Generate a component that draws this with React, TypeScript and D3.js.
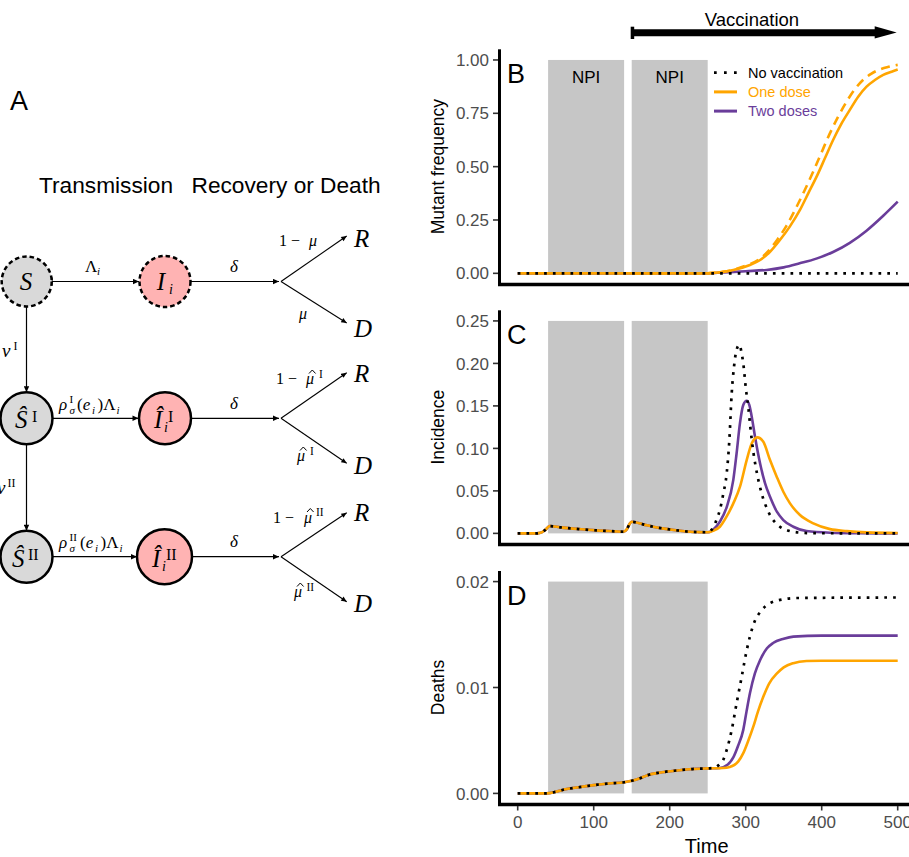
import React from 'react';
import * as d3 from 'd3';

// ---- values ----
const timeTicks = [0, 100, 200, 300, 400, 500];
const freqTicks = [0, 0.25, 0.5, 0.75, 1];
const incTicks = [0, 0.05, 0.1, 0.15, 0.2, 0.25];
const deathTicks = [0, 0.01, 0.02];
const npiWindows: [number, number][] = [[40, 140], [150, 250]];
const vaccination: [number, number] = [150, 500];

type Pt = [number, number];

// B: mutant frequency
const freqNoVax: Pt[] = [[0, 0], [500, 0]];
const freqOneDose: Pt[] = [[0, 0], [250, 0], [260, 0.003], [270, 0.007], [283.7, 0.0155], [305.6, 0.039], [319, 0.0624], [332, 0.101], [345, 0.156], [358, 0.219], [371.4, 0.297], [382.3, 0.375], [393.3, 0.453], [404.2, 0.539], [415, 0.625], [426.2, 0.703], [437, 0.766], [448, 0.828], [459, 0.875], [470, 0.906], [481, 0.93], [492, 0.945], [500, 0.955]];
const freqOneDoseAlt: Pt[] = [[150, 0], [250, 0], [260, 0.003], [270, 0.007], [283, 0.016], [300, 0.036], [318, 0.066], [330, 0.105], [342, 0.16], [354, 0.225], [366, 0.305], [377, 0.385], [388, 0.47], [399, 0.56], [410, 0.65], [421, 0.73], [432, 0.8], [443, 0.86], [454, 0.905], [465, 0.935], [476, 0.955], [488, 0.968], [500, 0.977]];
const freqTwoDoses: Pt[] = [[0, 0], [250, 0], [270, 0.004], [300, 0.01], [327.6, 0.016], [350, 0.028], [371, 0.047], [393, 0.069], [415, 0.1], [437, 0.143], [459, 0.2], [481, 0.27], [500, 0.336]];

// C: incidence (identical for all scenarios up to t = 250)
const incShared: Pt[] = [[0, 0], [25, 0], [30, 0.0006], [36, 0.0039], [42, 0.0086], [56, 0.0071], [80, 0.0051], [104, 0.0035], [128, 0.0024], [139, 0.0019], [143.5, 0.0047], [147.5, 0.0115], [150, 0.0136], [165, 0.0106], [178, 0.0078], [190, 0.0059], [203, 0.0043], [214, 0.0031], [227, 0.0019], [238, 0.0015], [250, 0.0013]];
const incNoVaxLate: Pt[] = [[255, 0.004], [258, 0.008], [262, 0.017], [266, 0.0275], [270.6, 0.047], [275, 0.0707], [278.5, 0.11], [281.6, 0.165], [284.6, 0.196], [288, 0.216], [291.6, 0.222], [294.7, 0.212], [296.8, 0.2], [300.4, 0.169], [303.5, 0.148], [306, 0.126], [310, 0.096], [313.6, 0.0765], [321, 0.047], [329.8, 0.0255], [345, 0.0078], [354, 0.0039], [370, 0.001], [390, 0.0002], [500, 0]];
const incOneDoseLate: Pt[] = [[257, 0.003], [266, 0.0078], [275, 0.02], [283.7, 0.0353], [292.5, 0.0549], [301.3, 0.0863], [308, 0.106], [315.3, 0.113], [323, 0.108], [332, 0.0863], [340.8, 0.0667], [349.5, 0.049], [358.3, 0.0353], [371.4, 0.0216], [389, 0.0118], [411, 0.005], [433, 0.0027], [459, 0.0012], [500, 0.0005]];
const incTwoDosesLate: Pt[] = [[257.4, 0.0047], [266, 0.0137], [275, 0.031], [283.7, 0.063], [288, 0.094], [292.5, 0.13], [296.8, 0.151], [301.3, 0.156], [304.8, 0.151], [308, 0.137], [312.2, 0.114], [319, 0.082], [325.4, 0.059], [332, 0.043], [341, 0.0255], [349.5, 0.0157], [362.6, 0.0078], [380, 0.0027], [411, 0.0008], [450, 0.0002], [500, 0]];

// D: cumulative deaths
const deathShared: Pt[] = [[0, 0], [38, 0], [50, 0.00015], [60, 0.00034], [80, 0.00058], [100, 0.00078], [120, 0.00094], [140, 0.00105], [150, 0.00119], [160, 0.0014], [170, 0.0017], [190, 0.002], [210, 0.00217], [230, 0.0023], [250, 0.00236]];
const deathNoVaxLate: Pt[] = [[258, 0.0024], [265, 0.0027], [270, 0.0031], [275, 0.0041], [281.6, 0.006], [288, 0.0085], [294.7, 0.011], [301, 0.0134], [310, 0.0159], [321, 0.0173], [341, 0.0182], [367, 0.01845], [500, 0.0185]];
const deathOneDoseLate: Pt[] = [[270, 0.0024], [279, 0.0025], [290, 0.003], [296.8, 0.0038], [303, 0.0049], [310, 0.0063], [316, 0.0077], [323, 0.0091], [331, 0.0104], [340.8, 0.0113], [350, 0.0119], [362.6, 0.0123], [380, 0.0125], [400, 0.01253], [500, 0.01253]];
const deathTwoDosesLate: Pt[] = [[266, 0.0024], [276, 0.0027], [283.7, 0.0034], [290, 0.0045], [296.8, 0.006], [301, 0.0077], [305.7, 0.0095], [312, 0.0113], [319, 0.0126], [328, 0.0137], [336, 0.0142], [350, 0.0146], [362.6, 0.0148], [400, 0.0149], [500, 0.0149]];

const legendItems = [
  { label: 'No vaccination', color: '#000000', dotted: true },
  { label: 'One dose', color: '#FFA500', dotted: false },
  { label: 'Two doses', color: '#6A3D9A', dotted: false },
];

const SANS = "'Liberation Sans', Arial, Helvetica, sans-serif";
const SERIF = "'Liberation Serif', 'Times New Roman', serif";
const ORANGE = '#FFA500';
const PURPLE = '#6A3D9A';
const NPI_FILL = '#C6C6C6';
const DOT = '2.7 6.1';

const x = d3.scaleLinear().domain([-25, 525]).range([498.7, 916.7]);

const panels = [
  {
    letter: 'B', title: 'Mutant frequency', ticks: freqTicks, ymax: 1,
    y: d3.scaleLinear().domain([-0.05, 1.05]).range([284, 49.3]),
    purple: freqTwoDoses, orange: freqOneDose, dashed: freqOneDoseAlt, black: freqNoVax,
  },
  {
    letter: 'C', title: 'Incidence', ticks: incTicks, ymax: 0.25,
    y: d3.scaleLinear().domain([-0.0125, 0.2625]).range([544, 310.3]),
    purple: [...incShared, ...incTwoDosesLate], orange: [...incShared, ...incOneDoseLate],
    dashed: null, black: [...incShared, ...incNoVaxLate],
  },
  {
    letter: 'D', title: 'Deaths', ticks: deathTicks, ymax: 0.02,
    y: d3.scaleLinear().domain([-0.001, 0.021]).range([804, 571]),
    purple: [...deathShared, ...deathTwoDosesLate], orange: [...deathShared, ...deathOneDoseLate],
    dashed: null, black: [...deathShared, ...deathNoVaxLate],
  },
];

const fmt = d3.format('.2f');

function Panel({ p, last }: { p: any; last: boolean }) {
  const y = p.y;
  const [yb, yt] = y.range();
  const line = d3.line<Pt>().x(d => x(d[0])).y(d => y(d[1])).curve(d3.curveMonotoneX);
  return (
    <g>
      {npiWindows.map(([a, b], i) => (
        <rect key={i} x={x(a)} y={y(p.ymax)} width={x(b) - x(a)} height={y(0) - y(p.ymax)} fill={NPI_FILL} />
      ))}
      <path d={line(p.purple) || ''} fill="none" stroke={PURPLE} strokeWidth={2.6} />
      <path d={line(p.orange) || ''} fill="none" stroke={ORANGE} strokeWidth={2.6} />
      {p.dashed && (
        <path d={line(p.dashed) || ''} fill="none" stroke={ORANGE} strokeWidth={2.6} strokeDasharray="9 6" />
      )}
      <path d={line(p.black) || ''} fill="none" stroke="#000" strokeWidth={2.7} strokeDasharray={DOT} />

      {/* axes */}
      <line x1={499.5} x2={499.5} y1={yt} y2={yb + 1.5} stroke="#000" strokeWidth={3} />
      <line x1={498} x2={909} y1={yb + 0.5} y2={yb + 0.5} stroke="#000" strokeWidth={3.5} />
      {p.ticks.map((t: number) => (
        <g key={t}>
          <line x1={493} x2={498} y1={y(t)} y2={y(t)} stroke="#333" strokeWidth={1.6} />
          <text x={489} y={y(t)} dy="0.36em" textAnchor="end" fill="#4D4D4D" fontSize={17} fontFamily={SANS}>{fmt(t)}</text>
        </g>
      ))}
      {last && timeTicks.map(t => (
        <g key={t}>
          <line x1={x(t)} x2={x(t)} y1={yb + 2} y2={yb + 6.5} stroke="#333" strokeWidth={1.6} />
          <text x={x(t)} y={828} textAnchor="middle" fill="#4D4D4D" fontSize={17} fontFamily={SANS}>{t}</text>
        </g>
      ))}
      <text transform={`translate(444,${(yt + yb) / 2}) rotate(-90)`} textAnchor="middle" fontSize={17.5} fontFamily={SANS} fill="#000">{p.title}</text>
      <text x={507} y={yt + 34} fontSize={27} fontFamily={SANS} fill="#000">{p.letter}</text>
    </g>
  );
}

// small circumflex drawn over an italic glyph starting at x, baseline b
const Hat = ({ x0, b }: { x0: number; b: number }) => (
  <path d={`M${x0 + 3},${b - 10.5} L${x0 + 6.3},${b - 14} L${x0 + 9.6},${b - 10.5}`} fill="none" stroke="#000" strokeWidth={1} />
);

function Diagram() {
  const m = { fontFamily: SERIF, fill: '#000' };
  const arrow = (x1: number, y1: number, x2: number, y2: number) => (
    <line x1={x1} y1={y1} x2={x2} y2={y2} stroke="#000" strokeWidth={1.2} markerEnd="url(#ah)" />
  );
  const branches = (cy: number, up: number, down: number, start: number) => (
    <g>
      {arrow(start, cy, 279, cy)}
      <line x1={281} y1={cy} x2={346.7} y2={up} stroke="#000" strokeWidth={1.1} markerEnd="url(#ah)" />
      <line x1={281} y1={cy} x2={346.7} y2={down} stroke="#000" strokeWidth={1.1} markerEnd="url(#ah)" />
    </g>
  );
  const rows = [281.5, 418.3, 556.7];
  return (
    <g>
      <defs>
        <marker id="ah" viewBox="0 0 10 10" refX="10" refY="5" markerWidth="6" markerHeight="5" orient="auto">
          <path d="M0,0.5 L10,5 L0,9.5 z" fill="#000" />
        </marker>
      </defs>
      <text x={10} y={110} fontSize={27} fontFamily={SANS}>A</text>
      <text x={39} y={193.3} fontSize={22.7} fontFamily={SANS}>Transmission</text>
      <text x={191.5} y={193.3} fontSize={22.7} fontFamily={SANS}>Recovery or Death</text>

      {/* vertical vaccination flows */}
      {arrow(26.5, 306.5, 26.5, 392.3)}
      {arrow(26.5, 444.3, 26.5, 530.7)}
      <text x={2} y={356.5} fontSize={19} fontStyle="italic" {...m}>ν</text>
      <text x={13.5} y={350} fontSize={12} {...m}>I</text>
      <text x={-3} y={493.5} fontSize={19} fontStyle="italic" {...m}>ν</text>
      <text x={7.5} y={487} fontSize={12} {...m}>II</text>

      {/* horizontal transmission arrows */}
      <line x1={52} y1={rows[0] - 4} x2={52} y2={rows[0] + 4} stroke="#000" strokeWidth={1.2} />
      {arrow(52, rows[0], 139, rows[0])}
      {arrow(52.5, rows[1], 138.5, rows[1])}
      {arrow(52.5, rows[2], 137, rows[2])}
      {branches(rows[0], 236, 323, 190.5)}
      {branches(rows[1], 372.7, 463.3, 191)}
      {branches(rows[2], 512.7, 601.7, 192)}

      {/* nodes */}
      <circle cx={26.7} cy={rows[0]} r={25} fill="#D9D9D9" stroke="#000" strokeWidth={2.5} strokeDasharray="4.5 3" />
      <circle cx={165} cy={rows[0]} r={25.5} fill="#FFB3B3" stroke="#000" strokeWidth={2.5} strokeDasharray="4.5 3" />
      <circle cx={26.5} cy={rows[1]} r={26} fill="#D9D9D9" stroke="#000" strokeWidth={2.5} />
      <circle cx={165} cy={rows[1]} r={26} fill="#FFB3B3" stroke="#000" strokeWidth={2.5} />
      <circle cx={26.5} cy={rows[2]} r={26} fill="#D9D9D9" stroke="#000" strokeWidth={2.5} />
      <circle cx={164.5} cy={rows[2]} r={27.5} fill="#FFB3B3" stroke="#000" strokeWidth={2.5} />

      <text x={26} y={rows[0] + 8.5} fontSize={25} fontStyle="italic" textAnchor="middle" {...m}>S</text>
      <text x={161} y={rows[0] + 8.5} fontSize={25} fontStyle="italic" textAnchor="middle" {...m}>I</text>
      <text x={169} y={rows[0] + 12} fontSize={14} fontStyle="italic" {...m}>i</text>

      <text x={15} y={rows[1] + 10} fontSize={25} fontStyle="italic" {...m}>Ŝ</text>
      <text x={32} y={rows[1] + 3.4} fontSize={16} {...m}>I</text>
      <text x={154} y={rows[1] + 10} fontSize={25} fontStyle="italic" {...m}>Î</text>
      <text x={164} y={rows[1] + 14} fontSize={14} fontStyle="italic" {...m}>i</text>
      <text x={168} y={rows[1] + 3.4} fontSize={16} {...m}>I</text>

      <text x={12} y={rows[2] + 10} fontSize={25} fontStyle="italic" {...m}>Ŝ</text>
      <text x={28} y={rows[2] + 3.4} fontSize={16} {...m}>II</text>
      <text x={152} y={rows[2] + 10} fontSize={25} fontStyle="italic" {...m}>Î</text>
      <text x={162} y={rows[2] + 14} fontSize={14} fontStyle="italic" {...m}>i</text>
      <text x={166} y={rows[2] + 3.4} fontSize={16} {...m}>II</text>

      {/* transmission labels */}
      <text x={85} y={271.7} fontSize={17} {...m}>Λ</text>
      <text x={97} y={274.5} fontSize={11} fontStyle="italic" {...m}>i</text>

      {[{ cy: rows[1], sup: 'I', dx: 0 }, { cy: rows[2], sup: 'II', dx: 3 }].map(({ cy, sup, dx }) => {
        const b = cy - 8.3;
        return (
          <g key={sup}>
            <text x={59} y={b} fontSize={17} fontStyle="italic" {...m}>ρ</text>
            <text x={69.5} y={b - 7} fontSize={11} {...m}>{sup}</text>
            <text x={69.5} y={b + 3.5} fontSize={11} fontStyle="italic" {...m}>σ</text>
            <text x={77 + dx} y={b} fontSize={17} {...m}>(<tspan fontStyle="italic">e</tspan></text>
            <text x={92 + dx} y={b + 3.5} fontSize={11} fontStyle="italic" {...m}>i</text>
            <text x={97.5 + dx} y={b} fontSize={17} {...m}>)Λ</text>
            <text x={116.5 + dx} y={b + 3.5} fontSize={11} fontStyle="italic" {...m}>i</text>
          </g>
        );
      })}

      {/* delta labels */}
      {rows.map(cy => (
        <text key={cy} x={230} y={cy - 9.5} fontSize={17} fontStyle="italic" {...m}>δ</text>
      ))}

      {/* branch labels */}
      <text x={279} y={246} fontSize={16} {...m}>1 −</text>
      <text x={309} y={246} fontSize={16} fontStyle="italic" {...m}>μ</text>
      <text x={299} y={318.5} fontSize={16} fontStyle="italic" {...m}>μ</text>

      <text x={276} y={384} fontSize={16} {...m}>1 −</text>
      <text x={306} y={384} fontSize={16} fontStyle="italic" {...m}>μ</text>
      <Hat x0={306} b={384} />
      <text x={319} y={378} fontSize={11.5} {...m}>I</text>
      <text x={297} y={461} fontSize={16} fontStyle="italic" {...m}>μ</text>
      <Hat x0={297} b={461} />
      <text x={310} y={455} fontSize={11.5} {...m}>I</text>

      <text x={273} y={522.5} fontSize={16} {...m}>1 −</text>
      <text x={304} y={522.5} fontSize={16} fontStyle="italic" {...m}>μ</text>
      <Hat x0={304} b={522.5} />
      <text x={316} y={516} fontSize={11.5} {...m}>II</text>
      <text x={294} y={597} fontSize={16} fontStyle="italic" {...m}>μ</text>
      <Hat x0={294} b={597} />
      <text x={306.5} y={590.5} fontSize={11.5} {...m}>II</text>

      {/* outcomes */}
      {[[246.7, 'R'], [336.7, 'D'], [382.3, 'R'], [474, 'D'], [520.7, 'R'], [612, 'D']].map(([yy, s]) => (
        <text key={String(yy)} x={354} y={yy as number} fontSize={25} fontStyle="italic" {...m}>{s as string}</text>
      ))}
    </g>
  );
}

export default function App() {
  return (
    <svg width={909} height={857} style={{ position: 'absolute', left: 0, top: 0, background: '#fff' }}>
      <rect width={909} height={857} fill="#fff" />
      <Diagram />

      {/* vaccination period arrow */}
      <text x={752} y={26} textAnchor="middle" fontSize={18.5} fontFamily={SANS}>Vaccination</text>
      <line x1={x(vaccination[0])} x2={x(vaccination[1]) - 20} y1={32.8} y2={32.8} stroke="#000" strokeWidth={7} />
      <rect x={x(vaccination[0]) - 1} y={26.7} width={3.5} height={12.3} fill="#000" />
      <path d={`M${x(vaccination[1]) - 23},26.3 L${x(vaccination[1]) - 1},32.6 L${x(vaccination[1]) - 23},38.6 Z`} fill="#000" />

      {panels.map((p, i) => <Panel key={p.letter} p={p} last={i === panels.length - 1} />)}

      {/* NPI labels */}
      {npiWindows.map(([a, b], i) => (
        <text key={i} x={x((a + b) / 2)} y={83.3} textAnchor="middle" fontSize={17} fontFamily={SANS}>NPI</text>
      ))}

      {/* legend */}
      {legendItems.map((it, i) => {
        const cy = 72.7 + i * 19.2;
        return (
          <g key={it.label}>
            <line x1={714} x2={737} y1={cy} y2={cy} stroke={it.color}
              strokeWidth={it.dotted ? 2.7 : 3} strokeDasharray={it.dotted ? '2.7 7.3' : undefined} />
            <text x={748} y={cy + 5.2} fontSize={14.5} fontFamily={SANS} fill={it.color}>{it.label}</text>
          </g>
        );
      })}

      <text x={x(250) - 1} y={853} textAnchor="middle" fontSize={20} fontFamily={SANS}>Time</text>
    </svg>
  );
}
